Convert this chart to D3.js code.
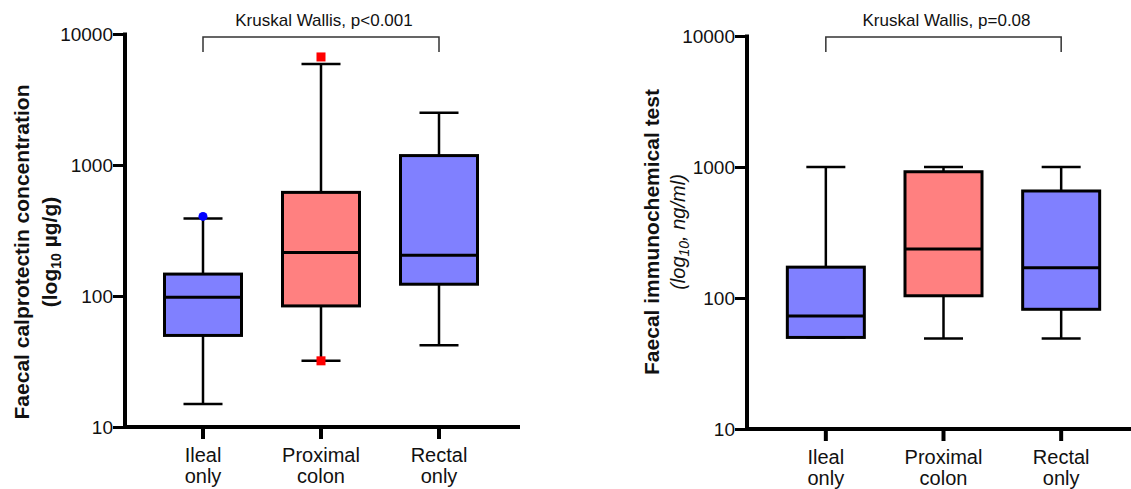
<!DOCTYPE html>
<html>
<head>
<meta charset="utf-8">
<script src="https://cdn.jsdelivr.net/npm/d3@7"></script>
<style>
  html, body { margin: 0; padding: 0; background: #fff; }
  svg { display: block; font-family: "Liberation Sans", Arial, sans-serif; }
</style>
</head>
<body>
<svg id="chart" width="1131" height="489"></svg>
<script>
// ---- data ----
const categories = ["Ileal only", "Proximal colon", "Rectal only"];
const yTicks = [10, 100, 1000, 10000];

// Faecal calprotectin (µg/g)
const fcMin    = [15, 32, 42];
const fcQ1     = [50, 84, 123];
const fcMedian = [98, 215, 205];
const fcQ3     = [147, 618, 1180];
const fcMax    = [390, 5900, 2500];
const fcOutlierCat = [0, 1, 1];
const fcOutlierVal = [405, 6680, 32];
const fcTest = "Kruskal Wallis, p<0.001";

// Faecal immunochemical test (ng/ml)
const fitMin    = [50, 49, 49];
const fitQ1     = [50, 104, 82];
const fitMedian = [73, 237, 170];
const fitQ3     = [172, 920, 656];
const fitMax    = [1000, 1000, 1000];
const fitOutlierCat = [];
const fitOutlierVal = [];
const fitTest = "Kruskal Wallis, p=0.08";

// ---- styles ----
const boxFill = ["#8080ff", "#ff8080", "#8080ff"];
const outlierFill = ["#0000ff", "#ff0000", "#ff0000"];
const outlierShape = ["circle", "square", "square"];

const svg = d3.select("#chart");

function drawPanel(p) {
  const g = svg.append("g");
  const y = d3.scaleLog().domain([10, 10000]).range([p.yBottom, p.yTop]);
  const x = d3.scaleBand().domain(categories).range(p.xBand).padding(0);
  const cx = c => x(c) + x.bandwidth() / 2;
  const bw = 77, capW = 39;

  // y axis
  const ya = g.append("g").attr("transform", `translate(${p.axisX},0)`)
    .call(d3.axisLeft(y).tickValues(yTicks).tickFormat(d3.format("d")).tickSize(12).tickSizeOuter(0).tickPadding(0));
  ya.select(".domain").remove();
  ya.selectAll(".tick line").attr("stroke", "#000").attr("stroke-width", 3);
  ya.selectAll(".tick text").attr("font-size", 19).attr("fill", "#111")
    .attr("font-family", "'Liberation Sans', Arial, sans-serif").attr("dy", "0.34em");
  g.append("line").attr("x1", p.axisX).attr("x2", p.axisX)
    .attr("y1", p.yTop - 1.5).attr("y2", p.yBottom + 2)
    .attr("stroke", "#000").attr("stroke-width", 4);

  // x axis
  const xa = g.append("g").attr("transform", `translate(0,${p.yBottom})`)
    .call(d3.axisBottom(x).tickSize(12).tickSizeOuter(0).tickFormat(""));
  xa.select(".domain").remove();
  xa.selectAll(".tick line").attr("stroke", "#000").attr("stroke-width", 4);
  g.append("line").attr("x1", p.axisX - 2).attr("x2", p.xEnd)
    .attr("y1", p.yBottom).attr("y2", p.yBottom)
    .attr("stroke", "#000").attr("stroke-width", 4);

  // x labels (two lines)
  categories.forEach(c => {
    const words = c.split(" ");
    const t = g.append("text").attr("x", cx(c)).attr("text-anchor", "middle")
      .attr("font-size", 20).attr("fill", "#111");
    words.forEach((w, i) => {
      t.append("tspan").attr("x", cx(c)).attr("y", p.yBottom + 35 + i * 21).text(w);
    });
  });

  // boxes
  categories.forEach((c, i) => {
    const xc = cx(c);
    const bg = g.append("g");
    bg.append("line").attr("x1", xc).attr("x2", xc).attr("y1", y(p.q3[i])).attr("y2", y(p.max[i]))
      .attr("stroke", "#000").attr("stroke-width", 2.5);
    bg.append("line").attr("x1", xc).attr("x2", xc).attr("y1", y(p.q1[i])).attr("y2", y(p.min[i]))
      .attr("stroke", "#000").attr("stroke-width", 2.5);
    bg.append("line").attr("x1", xc - capW / 2).attr("x2", xc + capW / 2).attr("y1", y(p.max[i])).attr("y2", y(p.max[i]))
      .attr("stroke", "#000").attr("stroke-width", 2.5);
    bg.append("line").attr("x1", xc - capW / 2).attr("x2", xc + capW / 2).attr("y1", y(p.min[i])).attr("y2", y(p.min[i]))
      .attr("stroke", "#000").attr("stroke-width", 2.5);
    bg.append("rect").attr("x", xc - bw / 2).attr("width", bw)
      .attr("y", y(p.q3[i])).attr("height", y(p.q1[i]) - y(p.q3[i]))
      .attr("fill", boxFill[i]).attr("stroke", "#000").attr("stroke-width", 3);
    bg.append("line").attr("x1", xc - bw / 2).attr("x2", xc + bw / 2)
      .attr("y1", y(p.median[i])).attr("y2", y(p.median[i]))
      .attr("stroke", "#000").attr("stroke-width", 3);
  });

  // outliers
  p.outCat.forEach((ci, k) => {
    const xc = cx(categories[ci]);
    const yy = y(p.outVal[k]);
    if (outlierShape[ci] === "circle") {
      g.append("circle").attr("cx", xc).attr("cy", yy).attr("r", 4.5).attr("fill", outlierFill[ci]);
    } else {
      g.append("rect").attr("x", xc - 4.5).attr("y", yy - 4.5).attr("width", 9).attr("height", 9)
        .attr("fill", outlierFill[ci]);
    }
  });

  // significance bracket
  const x0 = cx(categories[0]), x2 = cx(categories[2]);
  g.append("path").attr("d", `M${x0},52 V37 H${x2} V52`)
    .attr("fill", "none").attr("stroke", "#333").attr("stroke-width", 1.5);
  g.append("text").attr("x", (x0 + x2) / 2 + 3).attr("y", 26).attr("text-anchor", "middle")
    .attr("font-size", 17).attr("fill", "#111").text(p.test);

  // y title
  const tg = g.append("g");
  tg.append("text").attr("transform", `translate(${p.titleX1},${p.titleY}) rotate(-90)`)
    .attr("text-anchor", "middle").attr("font-size", 21).attr("font-weight", "bold").attr("fill", "#111")
    .text(p.title1);
  const t2 = tg.append("text").attr("transform", `translate(${p.titleX2},${p.titleY2}) rotate(-90)`)
    .attr("text-anchor", "middle").attr("font-size", p.italic ? 20 : 21)
    .attr("font-weight", p.italic ? "normal" : "bold").attr("fill", "#111")
    .attr("font-style", p.italic ? "italic" : "normal");
  t2.append("tspan").text("(log");
  t2.append("tspan").attr("font-size", 14).attr("dy", 4).text("10");
  t2.append("tspan").attr("dy", -4).text(p.title2rest);
}

drawPanel({
  yTop: 34, yBottom: 427, axisX: 125, xBand: [144, 498], xEnd: 520,
  min: fcMin, q1: fcQ1, median: fcMedian, q3: fcQ3, max: fcMax,
  outCat: fcOutlierCat, outVal: fcOutlierVal, test: fcTest,
  title1: "Faecal calprotectin concentration", title2rest: " \u00b5g/g)",
  titleX1: 29, titleX2: 57, titleY: 252, titleY2: 252, italic: false
});

drawPanel({
  yTop: 36, yBottom: 429, axisX: 747, xBand: [767, 1120], xEnd: 1131,
  min: fitMin, q1: fitQ1, median: fitMedian, q3: fitQ3, max: fitMax,
  outCat: fitOutlierCat, outVal: fitOutlierVal, test: fitTest,
  title1: "Faecal immunochemical test", title2rest: ", ng/ml)",
  titleX1: 659, titleX2: 685, titleY: 232, titleY2: 232, italic: true
});
</script>
</body>
</html>
